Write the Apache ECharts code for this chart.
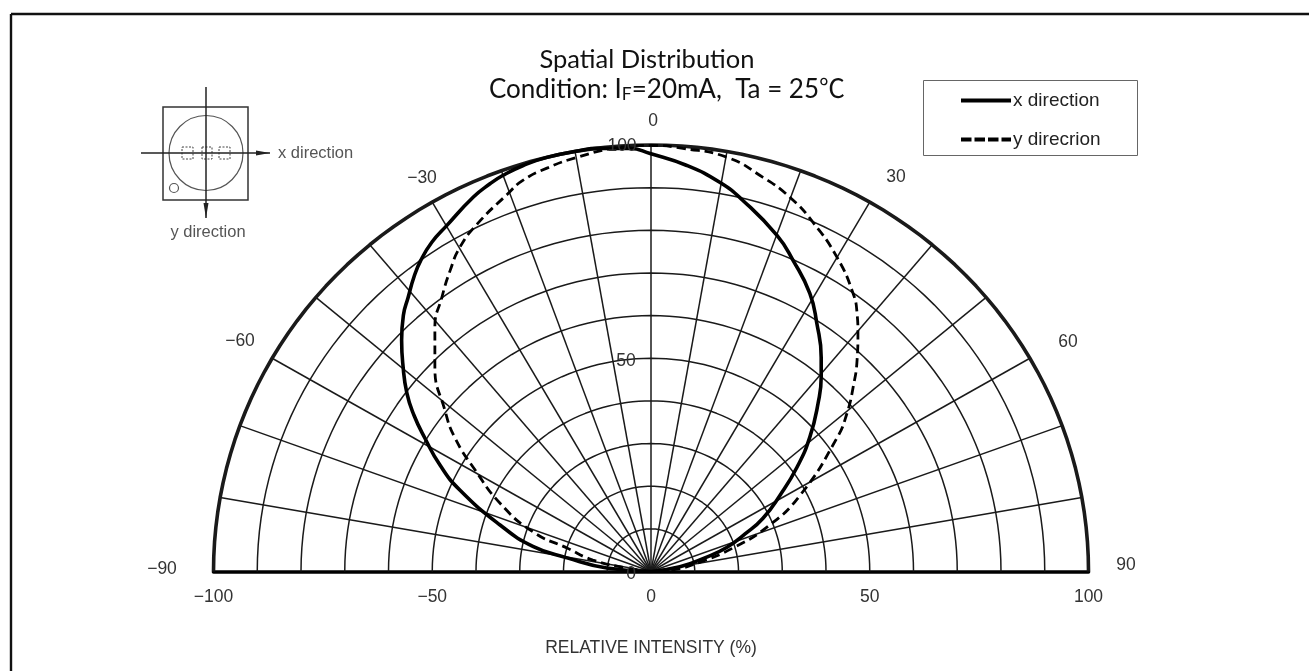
<!DOCTYPE html>
<html>
<head>
<meta charset="utf-8">
<style>html,body{margin:0;padding:0;background:#fff}#c{width:1309px;height:671px}</style>
<script src="https://cdn.jsdelivr.net/npm/echarts@6/dist/echarts.min.js"></script>
</head>
<body>
<div id="c"></div>
<script>
var seriesNames = ['x direction', 'y direcrion'];
var xDirection = [[0,0],[-10.1,0.8],[-19.2,3.2],[-27,5.9],[-34.5,10.9],[-43.7,19.1],[-48.2,24.9],[-51.7,31.3],[-54.2,36.7],[-55.8,41.8],[-56.7,48.4],[-57,54.2],[-56.6,60.1],[-55.5,64.3],[-54.2,69],[-52.6,73],[-50.1,77.2],[-46.7,81.1],[-40.6,87.8],[-36.8,90.9],[-33.8,92.9],[-29.2,95.2],[-23.8,97.1],[-16.2,98.7],[-12.3,99.2],[-4.8,99.2],[-0.2,98],[8.2,95.2],[15.8,91.2],[21,87],[28.8,78.8],[32.5,72.9],[36.3,65.2],[37.9,58.2],[38.9,50.2],[38.9,45.6],[38.2,39.5],[36.3,31.5],[33.4,24.5],[29.5,17.9],[25.6,12.5],[21.5,8.8],[17.4,5.7],[12.3,3.2],[6.6,1.1],[0,0]];
var yDirection = [[0,0],[-5.5,0.8],[-13.3,2.7],[-19.2,5.5],[-27,9.3],[-34.5,16],[-40.2,23.8],[-44.8,31.3],[-47.1,37.8],[-49.4,47.9],[-49.4,57.3],[-47.8,64.3],[-45.9,70.6],[-43.7,76],[-39.8,81.4],[-32.9,88.4],[-29.3,91.7],[-23.5,94.7],[-16.9,97.1],[-8.7,99.2],[-0.2,99.9],[7.3,99.2],[17.4,97.1],[25.6,92.4],[31.8,87.7],[37,81.9],[42.5,73.7],[46.2,65.2],[47.1,60.5],[47.3,55.9],[47.1,49.5],[46.2,43.2],[44.8,37.1],[42.5,31.3],[34.1,17.9],[26.5,10.4],[18.7,5.5],[11.2,2.2],[5,0.4],[0,0]];
var ringRadii = [10,20,30,40,50,60,70,80,90];
var outerRadius = 100;
var spokeAngles = [-80,-70,-60,-50,-40,-30,-20,-10,0,10,20,30,40,50,60,70,80];
var xTicks = [-100,-50,0,50,100];
var angleLabels = ['0','\u221230','30','\u221260','60','\u221290','90'];
var radiusLabels = ['100','50','0'];

function ring(r){var p=[];for(var a=0;a<=180;a+=2){var t=a*Math.PI/180;p.push([r*Math.cos(t),r*Math.sin(t)]);}return p;}
function spoke(a){var t=a*Math.PI/180;return [[0,0],[100*Math.sin(t),100*Math.cos(t)]];}
function guide(d,w){return {type:'line',data:d,symbol:'none',silent:true,animation:false,z:1,clip:false,lineStyle:{color:'#1a1a1a',width:w},emphasis:{disabled:true}};}

var series = [];
ringRadii.forEach(function(r){series.push(guide(ring(r),1.5));});
spokeAngles.forEach(function(a){series.push(guide(spoke(a),1.5));});
var outer = guide(ring(outerRadius),3.6); outer.z=3; series.push(outer);
series.push({name:seriesNames[0],type:'line',data:xDirection,symbol:'none',smooth:0.5,animation:false,z:5,itemStyle:{color:'#000'},lineStyle:{color:'#000',width:3.6}});
series.push({name:seriesNames[1],type:'line',data:yDirection,symbol:'none',smooth:0.5,animation:false,z:5,itemStyle:{color:'#000'},lineStyle:{color:'#000',width:2.8,type:[9,5]}});

var lblFont = '"Liberation Sans", Arial, sans-serif';
function t(x,y,text,size,color,align){return {type:'text',x:x,y:y,silent:true,z:20,style:{text:text,font:size+'px '+lblFont,fill:color||'#333',textAlign:align||'center',textVerticalAlign:'middle'}};}
function ln(x1,y1,x2,y2,w,color,dash){return {type:'line',silent:true,z:20,shape:{x1:x1,y1:y1,x2:x2,y2:y2},style:{stroke:color||'#222',lineWidth:w||1.5,lineDash:dash||null}};}
function dr(x,y,w,h){return {type:'rect',silent:true,z:20,shape:{x:x,y:y,width:w,height:h},style:{fill:'none',stroke:'#444',lineWidth:1,lineDash:[2,1.5]}};}

var graphics = [
  ln(11,14,1309,14,2.4,'#111'), ln(11,14,11,671,2.4,'#111'),
  {type:'rect',silent:true,z:2,shape:{x:923.5,y:80.5,width:214,height:75},style:{fill:'#fff',stroke:'#666',lineWidth:1}},
  t(653,121,angleLabels[0],17.5), t(422,178,angleLabels[1],17.5), t(896,177,angleLabels[2],17.5),
  t(240,341,angleLabels[3],17.5), t(1068,342,angleLabels[4],17.5), t(162,569,angleLabels[5],17.5), t(1126,565,angleLabels[6],17.5),
  t(622,146,radiusLabels[0],17.5), t(626,361,radiusLabels[1],17.5), t(631,574,radiusLabels[2],17.5),
  {type:'rect',silent:true,z:20,shape:{x:163,y:107,width:85,height:93},style:{fill:'none',stroke:'#333',lineWidth:1.5}},
  {type:'ellipse',silent:true,z:20,shape:{cx:206,cy:153,rx:37,ry:37.5},style:{fill:'none',stroke:'#555',lineWidth:1.2}},
  {type:'circle',silent:true,z:20,shape:{cx:174,cy:188,r:4.5},style:{fill:'none',stroke:'#555',lineWidth:1.2}},
  dr(182,147,11,12), dr(202,147,10,12), dr(219,147,11,12),
  ln(141,153,270,153,1.5), ln(206,87,206,218,1.5),
  {type:'polygon',silent:true,z:20,shape:{points:[[256,150.5],[270,153],[256,155.5]]},style:{fill:'#222'}},
  {type:'polygon',silent:true,z:20,shape:{points:[[203.5,203],[206,218],[208.5,203]]},style:{fill:'#222'}},
  t(278,153,'x direction',16.5,'#555','left'), t(208,232,'y direction',16.5,'#555')
];

var option = {
  backgroundColor:'#fff',
  animation:false,
  title:[
    {text:'Spatial Distribution',left:642,top:42,textAlign:'center',textStyle:{fontFamily:'Lato',fontWeight:'normal',fontSize:25.5,color:'#111'}},
    {text:'{a|Condition: I}{b|F}{a|=20mA,  Ta = 25\u2103}',left:662,top:72,textAlign:'center',textStyle:{fontWeight:'normal',rich:{a:{fontFamily:'Lato, "Noto Sans CJK JP"',fontWeight:'normal',fontSize:26,color:'#111'},b:{fontFamily:'Lato',fontWeight:'normal',fontSize:17.5,color:'#111',verticalAlign:'bottom',lineHeight:26}}}}
  ],
  legend:{
    data:[
      {name:seriesNames[0],icon:'path://M0 0H100V8H0Z'},
      {name:seriesNames[1],icon:'path://M0 0H21V8H0Z M27 0H48V8H27Z M54 0H75V8H54Z M81 0H100V8H81Z'}
    ],
    orient:'vertical',left:961,top:91,itemWidth:50,itemHeight:4,itemGap:20,padding:0,
    itemStyle:{color:'#000'},
    textStyle:{fontFamily:lblFont,fontSize:19,color:'#222',padding:[0,0,0,-3]}
  },
  grid:{left:213.5,top:145,width:875,height:426.5,containLabel:false},
  xAxis:{
    type:'value',min:-100,max:100,interval:50,
    axisLine:{show:true,onZero:false,lineStyle:{color:'#000',width:3.6}},
    axisTick:{show:false},splitLine:{show:false},
    axisLabel:{margin:17,fontFamily:lblFont,fontSize:17.5,color:'#333',customValues:xTicks,
      formatter:function(v){return String(v).replace('-','\u2212');}},
    name:'RELATIVE INTENSITY (%)',nameLocation:'middle',nameGap:68,
    nameTextStyle:{fontFamily:lblFont,fontSize:17.5,color:'#333'}
  },
  yAxis:{type:'value',min:0,max:100,show:false,splitLine:{show:false}},
  tooltip:{show:false},
  series:series,
  graphic:graphics
};
var chart = echarts.init(document.getElementById('c'),null,{renderer:'canvas'});
chart.setOption(option);
</script>
</body>
</html>
